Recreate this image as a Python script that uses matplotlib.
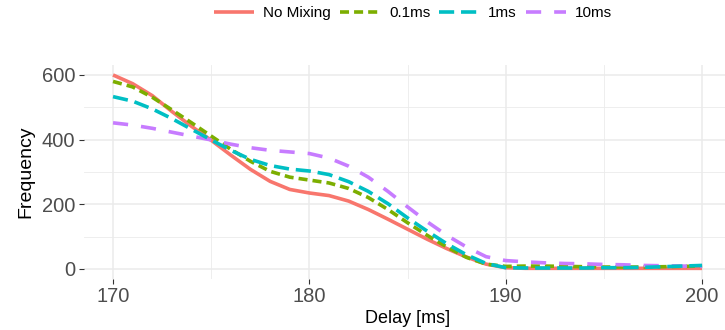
import numpy as np
import matplotlib
matplotlib.use("Agg")
import matplotlib.pyplot as plt
from matplotlib.ticker import FixedLocator

plt.rcParams['font.family'] = ['Liberation Sans', 'DejaVu Sans']

# delay [ms] and frequency
delay = np.arange(170, 201)
no_mixing = [600, 573, 536, 487, 441, 398, 352, 308, 271, 246, 235, 227, 210, 184, 154, 123,
             92, 63, 37, 15, 4, 2, 2, 2, 2, 2, 2, 2, 2, 2, 2]
mix_01 = [580, 563, 531, 492, 452, 411, 370, 333, 302, 284, 275, 266, 249, 221, 184, 143,
          104, 68, 36, 15, 8, 9, 9, 8, 7, 6, 6, 6, 7, 8, 9]
mix_1 = [533, 519, 495, 465, 432, 399, 367, 339, 320, 309, 303, 292, 270, 240, 202, 158,
         117, 78, 44, 17, 4, 3, 3, 3, 3, 4, 4, 5, 7, 9, 11]
mix_10 = [452, 445, 435, 423, 411, 399, 386, 375, 367, 362, 357, 343, 318, 284, 240, 192,
          146, 104, 68, 38, 26, 22, 19, 17, 16, 14, 13, 11, 10, 9, 8]

labels = ['No Mixing', '0.1ms', '1ms', '10ms']
colors = ['#F8766D', '#7CAE00', '#00BFC4', '#C77CFF']
dashes = [None, (2.5, 1.4), (4.2, 1.9), (4.2, 3.6)]
series = [no_mixing, mix_01, mix_1, mix_10]
draw_order = [0, 1, 3, 2]

fig = plt.figure(figsize=(7.25, 3.3), dpi=100)
ax = fig.add_axes([0.1153, 0.1555, 0.8937, 0.6467])

lines = {}
for i in draw_order:
    ln, = ax.plot(delay, series[i], color=colors[i], lw=2.6, label=labels[i],
                  solid_capstyle='butt', dash_capstyle='butt')
    if dashes[i] is not None:
        ln.set_dashes(dashes[i])
    lines[i] = ln

ax.set_xlim(168.5, 201.5)
ax.set_ylim(-30, 630)
ax.set_xticks([170, 180, 190, 200])
ax.set_yticks([0, 200, 400, 600])
ax.xaxis.set_minor_locator(FixedLocator([175, 185, 195]))
ax.yaxis.set_minor_locator(FixedLocator([100, 300, 500]))

for s in ax.spines.values():
    s.set_visible(False)
ax.grid(True, which='major', color='#EBEBEB', lw=1.1)
ax.grid(True, which='minor', color='#EBEBEB', lw=0.6)
ax.set_axisbelow(True)
ax.tick_params(which='major', length=3.6, width=0.8, color='#333333',
               labelsize=14.5, labelcolor='#4D4D4D', pad=2.5)
ax.tick_params(which='minor', length=0)

ax.set_xlabel('Delay [ms]', fontsize=13, labelpad=3)
ax.set_ylabel('Frequency', fontsize=14, labelpad=5)

fig.legend([lines[i] for i in range(4)], labels, loc='center', bbox_to_anchor=(0.570, 0.96),
           ncol=4, frameon=False, fontsize=11, handlelength=2.6, handletextpad=0.6,
           columnspacing=0.6)

fig.savefig('out.png', dpi=100)
